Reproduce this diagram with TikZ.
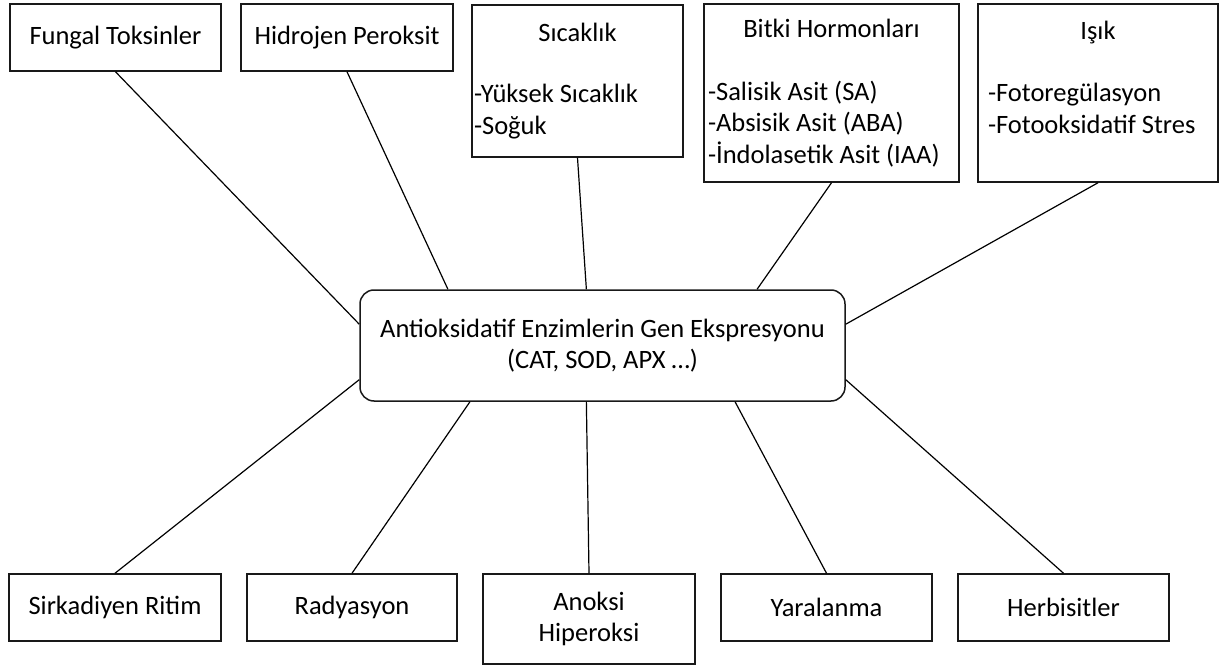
\documentclass[tikz,border=0pt]{standalone}
\usepackage{fontspec}
\setmainfont{Carlito}
\usetikzlibrary{positioning}

\begin{document}
\begin{tikzpicture}[
  x=1pt, y=-1pt,
  box/.style={draw=black!90, line width=1.5pt, align=center, inner sep=2pt, font=\fontsize{26.5}{31.5}\selectfont},
  lst/.style={box, align=flush left},
  hub/.style={box, rounded corners=14pt},
  ln/.style={line width=1.2pt}
]
\useasboundingbox (0,0) rectangle (1219,666);
% top row
\node[box, minimum width=211pt, minimum height=67pt] (fung) at (115.5,37.5) {Fungal Toksinler};
\node[box, minimum width=212pt, minimum height=67pt] (hidro) at (347,37.5) {Hidrojen Peroksit};
\node[lst, text width=207pt, minimum height=152pt] (sic) at (577.5,81) {\makebox[\linewidth]{Sıcaklık}\\[30pt]-Yüksek Sıcaklık\\-Soğuk};
\node[lst, inner xsep=4pt, text width=247pt, minimum height=178pt] (bitki) at (831.5,93) {\makebox[\linewidth]{Bitki Hormonları}\\[31pt]-Salisik Asit (SA)\\-Absisik Asit (ABA)\\-İndolasetik Asit (IAA)};
\node[lst, inner xsep=10pt, text width=220pt, minimum height=178pt] (isik) at (1098,93) {\makebox[\linewidth]{Işık}\\[31pt]-Fotoregülasyon\\-Fotooksidatif Stres\\\mbox{}};
% centre
\node[hub, minimum width=485pt, minimum height=111pt] (enz) at (602.5,345.5) {Antioksidatif Enzimlerin Gen Ekspresyonu\\(CAT, SOD, APX …)};
% bottom row
\node[box, minimum width=212pt, minimum height=67pt] (sirk) at (115,607.5) {Sirkadiyen Ritim};
\node[box, minimum width=210pt, minimum height=67pt] (rad) at (352,607.5) {Radyasyon};
\node[box, minimum width=212pt, minimum height=90pt] (anok) at (589,619) {Anoksi\\Hiperoksi};
\node[box, minimum width=211pt, minimum height=67pt] (yara) at (826.5,607.5) {Yaralanma};
\node[box, minimum width=211pt, minimum height=67pt] (herb) at (1063.5,607.5) {Herbisitler};
% connectors
\foreach \n/\a in {fung/175, hidro/160, sic/106, bitki/20, isik/5}
  \draw[ln] (\n.south) -- (enz.\a);
\foreach \n/\a in {sirk/-172, rad/-157, anok/-106, yara/-23, herb/-8}
  \draw[ln] (\n.north) -- (enz.\a);
\end{tikzpicture}
\end{document}
